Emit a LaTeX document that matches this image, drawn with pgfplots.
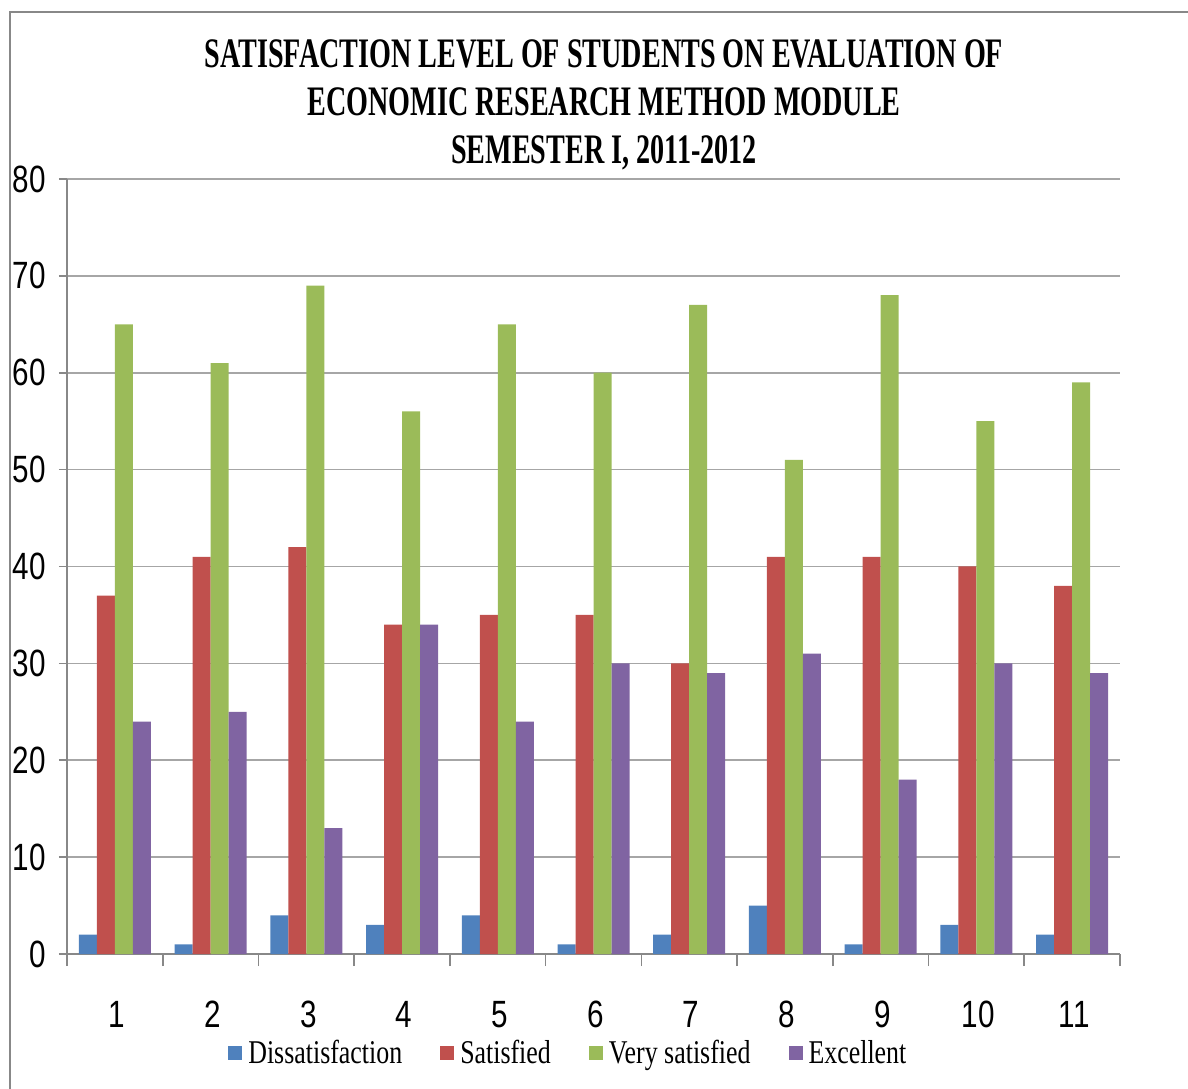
\documentclass[border=0pt]{standalone}
\usepackage{fontspec}
\setmainfont{Liberation Serif}
\newfontfamily\titlefont[FakeStretch=0.67]{Liberation Serif}
\newfontfamily\tickfont[FakeStretch=0.78]{Liberation Sans}
\newfontfamily\legfont[FakeStretch=0.78]{Liberation Serif}
\usepackage{pgfplots}
\pgfplotsset{compat=1.18}
\definecolor{cB}{HTML}{4F81BD}
\definecolor{cR}{HTML}{C0504D}
\definecolor{cG}{HTML}{9BBB59}
\definecolor{cP}{HTML}{8064A2}
\definecolor{gridc}{HTML}{A6A6A6}
\definecolor{axc}{HTML}{888888}
\begin{document}
\begin{tikzpicture}[x=0.5pt,y=0.5pt]
\useasboundingbox (0,0) rectangle (1188,1088);
\draw[axc, line width=1pt] (10,-20) rectangle (1250,1076);
\node[align=center, font=\titlefont\bfseries\fontsize{21}{24}\selectfont] at (604,983)
  {SATISFACTION LEVEL OF STUDENTS ON EVALUATION OF\\ECONOMIC RESEARCH METHOD MODULE\\SEMESTER I, 2011-2012};
\begin{axis}[
  at={(33.5pt,67pt)}, anchor=south west,
  scale only axis, width=526.5pt, height=387.5pt,
  xmin=0.5, xmax=11.5, ymin=0, ymax=80,
  ybar=0pt, bar width=9pt,
  axis x line*=bottom, axis y line*=left,
  axis line style={-, axc, line width=0.8pt},
  xtick={1,...,11},
  minor xtick={0.5,1.5,...,11.5},
  major x tick style={draw=none},
  minor x tick style={axc, line width=0.8pt},
  minor tick length=6pt,
  ytick={0,10,...,80},
  major tick length=4pt,
  y tick style={axc, line width=0.8pt},
  tick align=outside,
  ymajorgrids,
  grid style={gridc, line width=0.8pt},
  /pgf/number format/assume math mode=true,
  tick label style={font=\tickfont\fontsize{19}{19}\selectfont, text=black},
  xticklabel style={yshift=-16pt, xshift=1pt},
  yticklabel style={xshift=-3pt},
  legend columns=4,
  legend style={at={(0.478,-0.128)}, anchor=center, draw=none, fill=none,
    font=\legfont\fontsize{16.6}{16.6}\selectfont,
    /tikz/every even column/.append style={column sep=16pt},
    nodes={inner sep=3pt}},
  legend image code/.code={\fill[#1] (-2pt,-3.5pt) rectangle (5pt,3.5pt);},
]
\addplot[fill=cB, draw=none] coordinates {(1,2) (2,1) (3,4) (4,3) (5,4) (6,1) (7,2) (8,5) (9,1) (10,3) (11,2)};
\addplot[fill=cR, draw=none] coordinates {(1,37) (2,41) (3,42) (4,34) (5,35) (6,35) (7,30) (8,41) (9,41) (10,40) (11,38)};
\addplot[fill=cG, draw=none] coordinates {(1,65) (2,61) (3,69) (4,56) (5,65) (6,60) (7,67) (8,51) (9,68) (10,55) (11,59)};
\addplot[fill=cP, draw=none] coordinates {(1,24) (2,25) (3,13) (4,34) (5,24) (6,30) (7,29) (8,31) (9,18) (10,30) (11,29)};
\legend{Dissatisfaction, Satisfied, Very satisfied, Excellent}
\end{axis}
\end{tikzpicture}
\end{document}
